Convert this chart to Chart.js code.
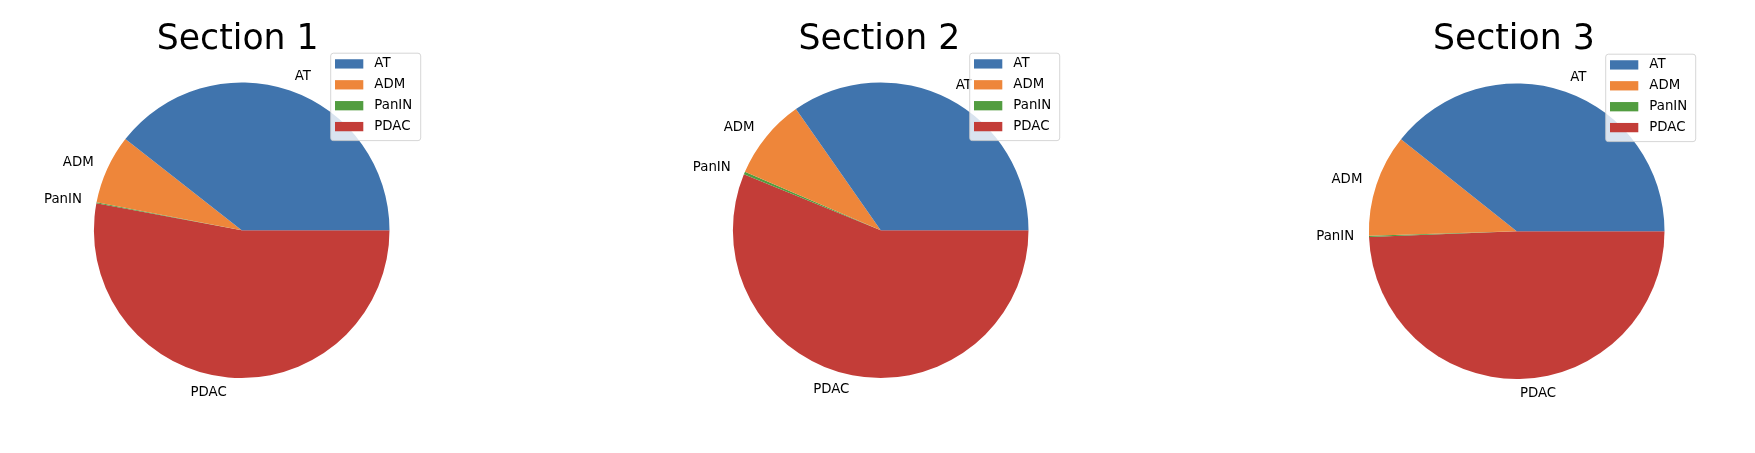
<!DOCTYPE html>
<html>
<head>
<meta charset="utf-8">
<script src="https://cdn.jsdelivr.net/npm/chart.js@4.4.0/dist/chart.umd.min.js"></script>
<style>
html, body { margin: 0; padding: 0; background: #ffffff; }
#wrap { position: relative; width: 1755px; height: 453px; overflow: hidden; background: #ffffff; }
#wrap canvas { position: absolute; left: 0; top: 0; }
</style>
</head>
<body>
<div id="wrap"></div>
<script>
// ---- data ----
const categories = ['AT', 'ADM', 'PanIN', 'PDAC'];
const sectionTitles = ['Section 1', 'Section 2', 'Section 3'];
const section1 = [0.3942, 0.0756, 0.0010, 0.5292];
const section2 = [0.3472, 0.0881, 0.0030, 0.5617];
const section3 = [0.3931, 0.1119, 0.0013, 0.4937];
const sections = [section1, section2, section3];

// ---- style / layout ----
const colors = ['#4074ad', '#ee863a', '#529d40', '#c33d38'];
const W = 1755, H = 453;
const R = 147.8;
const placement = [
  { cx: 241.7,  cy: 230.2, titleX: 237.7 },
  { cx: 880.7,  cy: 230.2, titleX: 879.3 },
  { cx: 1516.7, cy: 231.2, titleX: 1513.8 }
];
const FONT = '"DejaVu Sans", "Liberation Sans", sans-serif';

const overlayPlugin = {
  id: 'overlay',
  afterDraw(chart, args, opts) {
    const ctx = chart.ctx;
    const meta = chart.getDatasetMeta(0);
    const first = meta.data[0];
    const cx = first.x, cy = first.y, r = first.outerRadius;
    ctx.save();
    // title
    ctx.fillStyle = '#000000';
    ctx.font = '34.67px ' + FONT;
    ctx.textAlign = 'center';
    ctx.textBaseline = 'alphabetic';
    ctx.fillText(opts.title, opts.titleX, 48.7);
    // wedge labels
    ctx.font = '13.33px ' + FONT;
    ctx.textBaseline = 'middle';
    meta.data.forEach((a, i) => {
      const mid = (a.startAngle + a.endAngle) / 2;
      const x = cx + 1.1 * r * Math.cos(mid);
      const y = cy + 1.1 * r * Math.sin(mid);
      ctx.textAlign = Math.cos(mid) > 0 ? 'left' : 'right';
      ctx.fillText(chart.data.labels[i], x, y);
    });
    // legend
    const bx = cx + 89, by = cy - 177, bw = 90, bh = 87.4, rad = 2.7;
    ctx.beginPath();
    ctx.moveTo(bx + rad, by);
    ctx.lineTo(bx + bw - rad, by);
    ctx.arcTo(bx + bw, by, bx + bw, by + rad, rad);
    ctx.lineTo(bx + bw, by + bh - rad);
    ctx.arcTo(bx + bw, by + bh, bx + bw - rad, by + bh, rad);
    ctx.lineTo(bx + rad, by + bh);
    ctx.arcTo(bx, by + bh, bx, by + bh - rad, rad);
    ctx.lineTo(bx, by + rad);
    ctx.arcTo(bx, by, bx + rad, by, rad);
    ctx.closePath();
    ctx.fillStyle = 'rgba(255,255,255,0.8)';
    ctx.fill();
    ctx.strokeStyle = 'rgba(204,204,204,0.8)';
    ctx.lineWidth = 1;
    ctx.stroke();
    ctx.textAlign = 'left';
    ctx.textBaseline = 'middle';
    opts.legendItems.forEach((name, i) => {
      const ry = by + 10.7 + i * 20.9;
      ctx.fillStyle = opts.legendColors[i];
      ctx.fillRect(bx + 4.3, ry - 4.65, 28.3, 9.3);
      ctx.fillStyle = '#000000';
      ctx.fillText(name, bx + 43.6, ry);
    });
    ctx.restore();
  }
};

const wrap = document.getElementById('wrap');
sections.forEach((values, k) => {
  const p = placement[k];
  const canvas = document.createElement('canvas');
  canvas.width = W; canvas.height = H;
  canvas.style.width = W + 'px'; canvas.style.height = H + 'px';
  wrap.appendChild(canvas);
  // matplotlib draws counter-clockwise from 3 o'clock; Chart.js draws clockwise,
  // so feed reversed order starting at 3 o'clock.
  const revLabels = categories.slice().reverse();
  const revValues = values.slice().reverse();
  const revColors = colors.slice().reverse();
  new Chart(canvas, {
    type: 'pie',
    data: {
      labels: revLabels,
      datasets: [{
        data: revValues,
        backgroundColor: revColors,
        borderWidth: 0,
        hoverOffset: 0,
        offset: 0
      }]
    },
    options: {
      responsive: false,
      animation: false,
      events: [],
      rotation: 90,
      layout: {
        padding: {
          left: p.cx - R,
          right: W - p.cx - R,
          top: p.cy - R,
          bottom: H - p.cy - R
        }
      },
      plugins: {
        legend: { display: false },
        title: { display: false },
        tooltip: { enabled: false },
        overlay: {
          title: sectionTitles[k],
          titleX: p.titleX,
          legendItems: categories,
          legendColors: colors
        }
      }
    },
    plugins: [overlayPlugin]
  });
});
</script>
</body>
</html>
